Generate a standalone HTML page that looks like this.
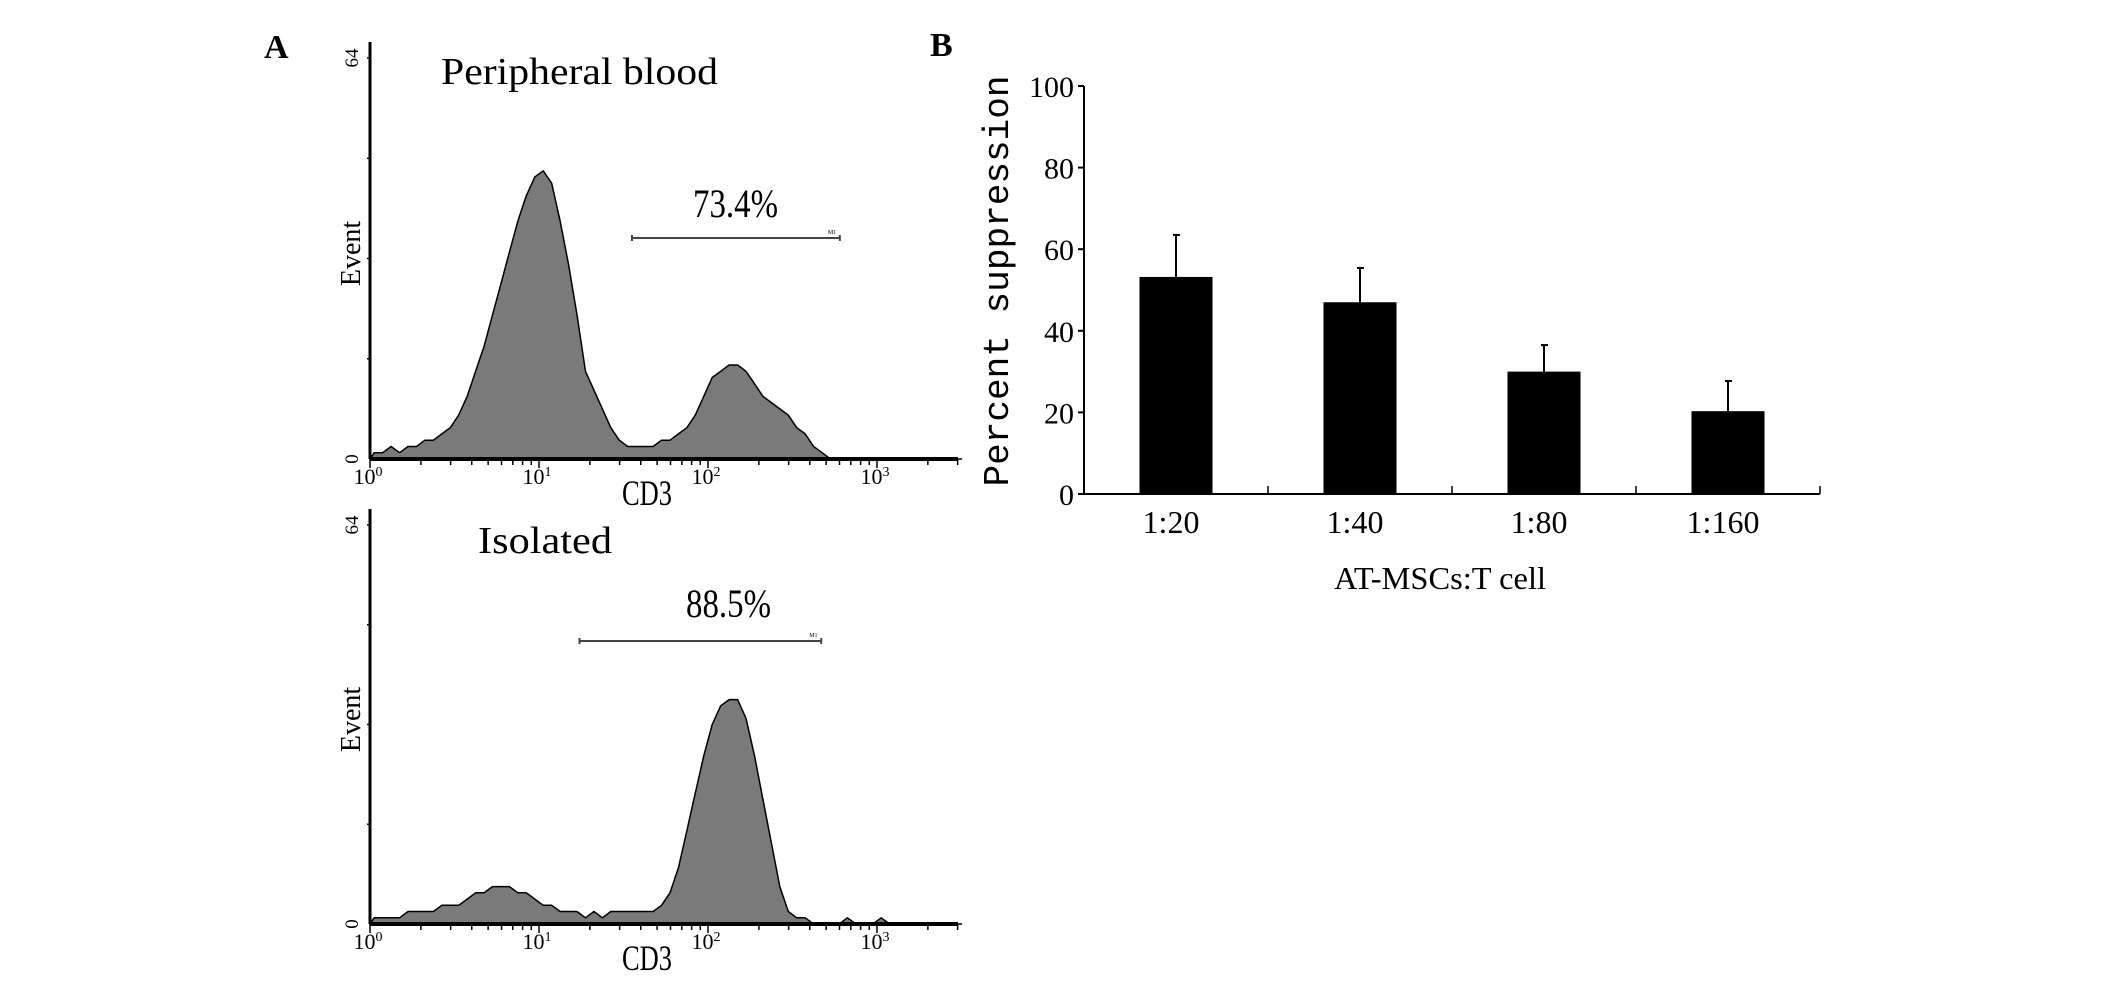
<!DOCTYPE html>
<html><head><meta charset="utf-8"><style>
html,body{margin:0;padding:0;background:#fff;}
svg{display:block;}
text{font-family:"Liberation Serif","Noto Serif CJK SC",serif;fill:#000;}
</style></head><body>
<svg id="fig" width="2126" height="987" viewBox="0 0 2126 987" xmlns="http://www.w3.org/2000/svg">
<text x="264" y="58" font-size="34" font-weight="bold">A</text>
<text x="930" y="56" font-size="34" font-weight="bold">B</text>
<g id="histA"></g>
<g id="histB"></g>
<g id="bars"></g>
</svg>
<script>
// ---- Panel A data (counts per 0.05-decade bin, starting at 10^0) ----
const pbCounts = [1,1,2,1,2,2,3,3,4,5,7,10,14,18,23,28,33,38,42,45,46,44,38,31,23,14,11,8,5,3,2,2,2,2,3,3,4,5,7,10,13,14,15,15,14,12,10,9,8,7,5,4,2,1,0,0,0,0,0,0,0,0,0,0,0,0,0,0,0,0];
const isoCounts = [1,1,1,1,2,2,2,2,3,3,3,4,5,5,6,6,6,5,5,4,3,3,2,2,2,1,2,1,2,2,2,2,2,2,3,5,9,15,21,27,32,35,36,36,33,27,20,13,6,2,1,1,0,0,0,0,1,0,0,0,1,0,0,0,0,0,0,0,0,0];
const pbGate = [1.55, 2.78]; const pbPercent = "73.4%";
const isoGate = [1.24, 2.67]; const isoPercent = "88.5%";
const decadeLabels = ["0","1","2","3"];
// ---- Panel B data ----
const categories = ["1:20","1:40","1:80","1:160"];
const suppression = [53.2, 47, 30, 20.3];
const errorTop = [63.5, 55.4, 36.5, 27.7];
const yTicks = [0,20,40,60,80,100];

const NS = "http://www.w3.org/2000/svg";
function el(tag, attrs, parent, txt){
  const e = document.createElementNS(NS, tag);
  for (const k in attrs) e.setAttribute(k, attrs[k]);
  if (txt !== undefined) e.textContent = txt;
  parent.appendChild(e); return e;
}

function drawHist(g, counts, base, top64, title, titleX, titleY, gate, pct, pctX, pctY, gateY){
  const x0 = 370, dec = 169, xEnd = 958;
  const xs = d => x0 + d*dec;
  const ys = c => base - c*(base-top64)/64;
  let dAttr = `M${xs(0)},${base}`;
  counts.forEach((c,i)=>{ dAttr += ` L${xs(i*0.05+0.025).toFixed(1)},${ys(c).toFixed(1)}`; });
  dAttr += ` L${xs(counts.length*0.05)},${base} Z`;
  const area = el("path",{d:dAttr,fill:"#7a7a7a",stroke:"#000","stroke-width":"1.5","stroke-linejoin":"round"},g);
  
  
  const ya = el("line",{x1:x0,y1:top64-16,x2:x0,y2:base,stroke:"#000","stroke-width":"3"},g);
   
  const xa = el("line",{x1:x0,y1:base,x2:xEnd,y2:base,stroke:"#000","stroke-width":"4"},g);
   
  for (let q=1;q<=4;q++){ el("line",{x1:x0-3,y1:ys(q*16),x2:x0,y2:ys(q*16),stroke:"#000","stroke-width":"1.5"},g); }
  for (let k=0;k<4;k++){
    for (let m=1;m<10;m++){
      const d = k + Math.log10(m); if (xs(d) > xEnd) break;
      el("line",{x1:xs(d),y1:base,x2:xs(d),y2:base+(m===1?9:6),stroke:"#000","stroke-width":"1.5"},g);
    }
    const t = el("text",{x:xs(k)-2,y:base+25,"font-size":"22","text-anchor":"middle"},g);
     
    el("tspan",{},t,"10");
    el("tspan",{dy:"-8","font-size":"14"},t,decadeLabels[k]);
  }
  const c64 = el("text",{transform:`translate(358,${top64}) rotate(-90)`,"font-size":"19","text-anchor":"middle"},g,"64");
   
  const c0 = el("text",{transform:`translate(358,${base}) rotate(-90)`,"font-size":"19","text-anchor":"middle"},g,"0");
   
  const ev = el("text",{transform:`translate(360,${(base+top64)/2-5}) rotate(-90)`,"font-size":"28","text-anchor":"middle"},g,"Event");
   
  const cd = el("text",{x:647,y:base+46,"font-size":"36","text-anchor":"middle",textLength:"50",lengthAdjust:"spacingAndGlyphs"},g,"CD3");
   
  const tt = el("text",{x:titleX,y:titleY,"font-size":"38",textLength:(title.length>9?277:134),lengthAdjust:"spacingAndGlyphs"},g,title);
   
  const gl = el("line",{x1:xs(gate[0]),y1:gateY,x2:xs(gate[1]),y2:gateY,stroke:"#444","stroke-width":"2"},g);
   
  el("line",{x1:xs(gate[0]),y1:gateY-3,x2:xs(gate[0]),y2:gateY+3,stroke:"#444","stroke-width":"2"},g);
  el("line",{x1:xs(gate[1]),y1:gateY-3,x2:xs(gate[1]),y2:gateY+3,stroke:"#444","stroke-width":"2"},g);
  el("text",{x:xs(gate[1])-12,y:gateY-4,"font-size":"6"},g,"M1");
  const pt = el("text",{x:pctX,y:pctY,"font-size":"40",textLength:"85",lengthAdjust:"spacingAndGlyphs"},g,pct);
   
}
drawHist(document.getElementById("histA"), pbCounts, 459, 58, "Peripheral blood", 441, 84, pbGate, pbPercent, 693, 217, 238);
drawHist(document.getElementById("histB"), isoCounts, 924, 525, "Isolated", 478, 553, isoGate, isoPercent, 686, 617, 641);

(function(){
  const g = document.getElementById("bars");
  const x0 = 1084, x1 = 1820, y0 = 494, y100 = 86;
  const ys = v => y0 - v*(y0-y100)/100;
  const band = (x1-x0)/categories.length;
  const bw = 73;
  const ya = el("line",{x1:x0,y1:y100,x2:x0,y2:y0,stroke:"#000","stroke-width":"2"},g);
   
  const xa = el("line",{x1:x0,y1:y0,x2:x1,y2:y0,stroke:"#000","stroke-width":"2"},g);
   
  yTicks.forEach(v=>{
    el("line",{x1:x0-6,y1:ys(v),x2:x0,y2:ys(v),stroke:"#000","stroke-width":"2"},g);
    const t = el("text",{x:x0-10,y:ys(v)+11,"font-size":"30","text-anchor":"end"},g,String(v));
     
  });
  categories.forEach((c,i)=>{
    const cx = x0 + band*(i+0.5);
    el("line",{x1:x0+band*(i+1),y1:y0,x2:x0+band*(i+1),y2:y0-8,stroke:"#000","stroke-width":"1.5"},g);
    const eb = el("line",{x1:cx,y1:ys(errorTop[i]),x2:cx,y2:ys(suppression[i]),stroke:"#000","stroke-width":"2"},g);
     
    el("line",{x1:cx-3,y1:ys(errorTop[i]),x2:cx+4,y2:ys(errorTop[i]),stroke:"#000","stroke-width":"2"},g);
    const r = el("rect",{x:cx-bw/2,y:ys(suppression[i]),width:bw,height:y0-ys(suppression[i]),fill:"#000"},g);
    
    
    const t = el("text",{x:cx-5,y:533,"font-size":"32","text-anchor":"middle"},g,c);
     
  });
  const xt = el("text",{x:1440,y:589,"font-size":"32","text-anchor":"middle",textLength:"212",lengthAdjust:"spacingAndGlyphs"},g,"AT-MSCs:T cell");
   
  const yt = el("text",{transform:"translate(1008,281) rotate(-90)","font-size":"36","text-anchor":"middle",textLength:"411",lengthAdjust:"spacingAndGlyphs",style:"font-family:'Liberation Mono',monospace"},g,"Percent suppression");
   
})();
</script>
</body></html>
